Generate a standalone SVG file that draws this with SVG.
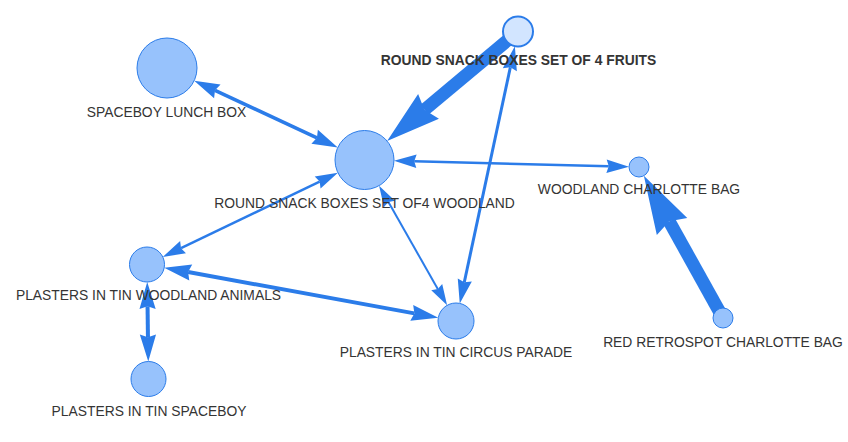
<svg xmlns="http://www.w3.org/2000/svg" width="848" height="442" viewBox="0 0 848 442">
<style>
.e{stroke:#2b7ce9;fill:none;stroke-linecap:butt}
.a{fill:#2b7ce9;stroke:none}
.n{fill:#97c2fc;stroke:#2b7ce9;stroke-width:1}
.sel{fill:#d2e5ff;stroke:#2b7ce9;stroke-width:2}
.t{font-family:"Liberation Sans",Arial,sans-serif;font-size:13.85px;fill:#343434;text-anchor:middle}
.b{font-weight:bold}
</style>
<rect width="848" height="442" fill="#ffffff"/>
<g id="connectors">
  <!-- fruits -> woodland -->
  <line class="e" x1="518" y1="31.5" x2="424.39" y2="109.86" stroke-width="13"/>
  <polygon class="a" points="387.12,141.06 418.13,93.98 424.39,109.86 438.93,118.82"/>
  <!-- spaceboy lunch box <-> woodland -->
  <line class="e" x1="215.00" y1="90.36" x2="316.96" y2="137.85" stroke-width="3.5"/>
  <polygon class="a" points="337.76,147.54 311.41,143.70 316.96,137.85 317.87,129.84"/>
  <polygon class="a" points="194.20,80.67 214.09,98.37 215.00,90.36 220.55,84.51"/>
  <!-- woodland <-> plasters woodland animals -->
  <line class="e" x1="319.66" y1="181.55" x2="181.02" y2="248.15" stroke-width="2.5"/>
  <polygon class="a" points="162.77,256.92 180.13,241.10 181.02,248.15 185.97,253.26"/>
  <polygon class="a" points="337.91,172.78 314.71,176.44 319.66,181.55 320.55,188.60"/>
  <!-- woodland <-> circus -->
  <line class="e" x1="388.42" y1="202.08" x2="437.77" y2="288.92" stroke-width="2"/>
  <polygon class="a" points="447.11,305.35 431.25,290.20 437.77,288.92 442.21,283.98"/>
  <polygon class="a" points="379.08,185.65 383.98,207.02 388.42,202.08 394.94,200.80"/>
  <!-- fruits <-> circus -->
  <line class="e" x1="510.34" y1="67.29" x2="464.29" y2="282.28" stroke-width="3"/>
  <polygon class="a" points="459.77,303.40 457.76,278.42 464.29,282.28 471.84,281.44"/>
  <polygon class="a" points="514.86,46.17 502.79,68.13 510.34,67.29 516.87,71.15"/>
  <!-- woodland <-> charlotte bag -->
  <line class="e" x1="414.23" y1="161.27" x2="608.76" y2="166.23" stroke-width="2.5"/>
  <polygon class="a" points="629.00,166.75 606.34,172.93 608.76,166.23 606.68,159.43"/>
  <polygon class="a" points="393.99,160.75 416.31,168.07 414.23,161.27 416.65,154.57"/>
  <!-- red retrospot -> charlotte bag -->
  <line class="e" x1="723" y1="318" x2="669.23" y2="221.36" stroke-width="13"/>
  <polygon class="a" points="643.86,175.74 687.26,217.97 669.23,221.36 656.84,234.89"/>
  <!-- plasters woodland <-> circus -->
  <line class="e" x1="188.11" y1="272.02" x2="414.39" y2="313.39" stroke-width="4"/>
  <polygon class="a" points="438.29,317.76 410.27,320.87 414.39,313.39 413.19,304.93"/>
  <polygon class="a" points="164.21,267.65 189.31,280.48 188.11,272.02 192.23,264.54"/>
  <!-- plasters woodland <-> plasters spaceboy -->
  <line class="e" x1="147.55" y1="306.30" x2="147.95" y2="337.20" stroke-width="4"/>
  <polygon class="a" points="148.27,361.50 139.82,334.61 147.95,337.20 156.02,334.39"/>
  <polygon class="a" points="147.23,282.00 139.48,309.11 147.55,306.30 155.68,308.89"/>
</g>
<g id="node-fruits">
  <circle class="sel" cx="518" cy="31.5" r="15"/>
  <text class="t b" x="518.5" y="65">ROUND SNACK BOXES SET OF 4 FRUITS</text>
</g>
<g id="node-spaceboy-lunch-box">
  <circle class="n" cx="167" cy="68" r="30"/>
  <text class="t" x="166.5" y="116.5">SPACEBOY LUNCH BOX</text>
</g>
<g id="node-woodland">
  <circle class="n" cx="364.5" cy="160" r="29.5"/>
  <text class="t" x="364.6" y="208">ROUND SNACK BOXES SET OF4 WOODLAND</text>
</g>
<g id="node-woodland-charlotte-bag">
  <circle class="n" cx="639" cy="167" r="10"/>
  <text class="t" x="639" y="193.5">WOODLAND CHARLOTTE BAG</text>
</g>
<g id="node-red-retrospot-charlotte-bag">
  <circle class="n" cx="723" cy="318" r="10"/>
  <text class="t" x="723" y="346.5">RED RETROSPOT CHARLOTTE BAG</text>
</g>
<g id="node-plasters-woodland-animals">
  <circle class="n" cx="147" cy="264.5" r="17.5"/>
  <text class="t" x="148.5" y="300">PLASTERS IN TIN WOODLAND ANIMALS</text>
</g>
<g id="node-plasters-circus-parade">
  <circle class="n" cx="456" cy="321" r="18"/>
  <text class="t" x="456" y="356.5">PLASTERS IN TIN CIRCUS PARADE</text>
</g>
<g id="node-plasters-spaceboy">
  <circle class="n" cx="148.5" cy="379" r="17.5"/>
  <text class="t" x="149" y="416">PLASTERS IN TIN SPACEBOY</text>
</g>
</svg>
